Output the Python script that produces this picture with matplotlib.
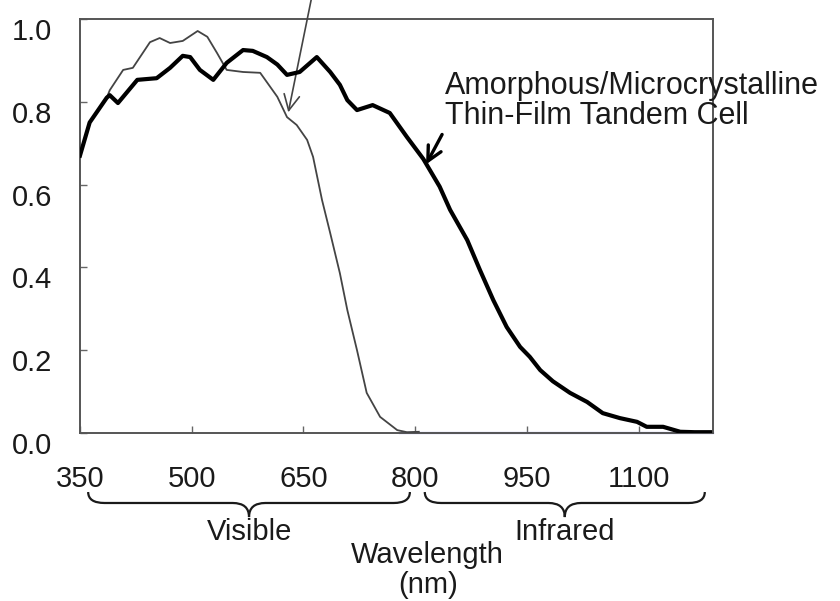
import numpy as np
import matplotlib
matplotlib.use('Agg')
import matplotlib.pyplot as plt
from matplotlib.path import Path
from matplotlib.patches import PathPatch
from matplotlib.transforms import ScaledTranslation

plt.rcParams['font.family'] = ['Liberation Sans', 'DejaVu Sans']

# tandem cell (thick line)
wl_tandem = [350, 363, 386, 390, 401, 427, 453, 471, 488, 498, 511, 529, 547, 569,
             582, 601, 615, 628, 645, 668, 686, 699, 709, 722, 743, 766, 789, 811,
             833, 847, 870, 887, 905, 923, 941, 954, 968, 985, 1008, 1031, 1052,
             1075, 1098, 1111, 1133, 1156, 1175, 1196]
qe_tandem = [0.67, 0.75, 0.81, 0.816, 0.797, 0.853, 0.857, 0.882, 0.911, 0.908, 0.877,
             0.853, 0.894, 0.925, 0.923, 0.908, 0.89, 0.865, 0.872, 0.908, 0.872, 0.841,
             0.804, 0.78, 0.792, 0.773, 0.715, 0.662, 0.595, 0.539, 0.466, 0.394, 0.321,
             0.256, 0.208, 0.184, 0.152, 0.125, 0.097, 0.075, 0.048, 0.036, 0.027, 0.015,
             0.015, 0.003, 0.002, 0.002]

# amorphous single cell (thin line)
wl_amor = [350, 363, 386, 390, 408, 421, 444, 457, 471, 488, 508, 521, 534, 547, 569,
           592, 596, 615, 628, 641, 655, 663, 675, 686, 699, 709, 722, 735, 753, 776,
           789, 805]
qe_amor = [0.67, 0.75, 0.81, 0.828, 0.877, 0.882, 0.944, 0.954, 0.942, 0.947, 0.971,
           0.957, 0.918, 0.877, 0.872, 0.870, 0.860, 0.812, 0.763, 0.744, 0.708, 0.667,
           0.563, 0.483, 0.386, 0.297, 0.200, 0.097, 0.039, 0.007, 0.002, 0.003]

wl_base = [780, 1200]
qe_base = [0.0, 0.0]

xticks = [350, 500, 650, 800, 950, 1100]
yticks = [0.0, 0.2, 0.4, 0.6, 0.8, 1.0]

fig = plt.figure(figsize=(8.4, 6.01), dpi=100)
ax = fig.add_axes([0.0952, 0.2795, 0.7536, 0.6889])

ax.plot(wl_base, qe_base, color='#8c8cdc', lw=1.6, clip_on=False, zorder=2)
ax.plot(wl_amor, qe_amor, color='#444444', lw=1.3, zorder=3, solid_joinstyle='round')
ax.plot(wl_tandem, qe_tandem, color='black', lw=3.0, zorder=4, solid_joinstyle='round')

ax.set_xlim(350, 1200)
ax.set_ylim(0, 1.0)
ax.set_xticks(xticks)
ax.set_yticks(yticks)
ax.set_yticklabels(['%.1f' % v for v in yticks])
ax.tick_params(direction='in', length=5, width=1, color='#666666',
               labelsize=21, labelcolor='#1a1a1a')
ax.tick_params(axis='x', pad=23)
ax.tick_params(axis='y', pad=20)
for s in ax.spines.values():
    s.set_color('#555555')
    s.set_linewidth(1.4)

# excel-style labels sit a bit low
off = ScaledTranslation(0, -10 / 100, fig.dpi_scale_trans)
for lab in ax.get_yticklabels():
    lab.set_transform(lab.get_transform() + off)

# arrows
ax.annotate('', xy=(629, 0.768), xytext=(662, 1.06), annotation_clip=False,
            arrowprops=dict(arrowstyle='->', lw=1.2, color='#444444', mutation_scale=28))
ax.annotate('', xy=(813, 0.643), xytext=(838, 0.727), annotation_clip=False,
            arrowprops=dict(arrowstyle='->', lw=2.4, color='black', mutation_scale=26))
ax.text(840, 0.874, 'Amorphous/Microcrystalline\nThin-Film Tandem Cell', fontsize=22,
        color='#1a1a1a', va='top', ha='left', linespacing=1.0)

# braces under the axis
def brace(x0, x1, xm, ye=-0.1425, ym=-0.169, yt=-0.203, r=22):
    verts = [(x0, ye), (x0, ym), (x0 + r, ym), (xm - r, ym), (xm, ym), (xm, yt),
             (xm, ym), (xm + r, ym), (x1 - r, ym), (x1, ym), (x1, ye)]
    codes = [Path.MOVETO, Path.CURVE3, Path.CURVE3, Path.LINETO, Path.CURVE3, Path.CURVE3,
             Path.CURVE3, Path.CURVE3, Path.LINETO, Path.CURVE3, Path.CURVE3]
    p = PathPatch(Path(verts, codes), fc='none', ec='#1a1a1a', lw=1.6,
                  transform=ax.get_xaxis_transform(), clip_on=False)
    ax.add_patch(p)

brace(361, 793, 577)
brace(813, 1189, 1001)

tr = ax.get_xaxis_transform()
ax.text(578, -0.239, 'Visible', transform=tr, ha='center', va='center', fontsize=21, color='#1a1a1a')
ax.text(1001, -0.239, 'Infrared', transform=tr, ha='center', va='center', fontsize=21, color='#1a1a1a')
ax.text(817, -0.295, 'Wavelength', transform=tr, ha='center', va='center', fontsize=21, color='#1a1a1a')
ax.text(817, -0.367, '(nm)', transform=tr, ha='center', va='center', fontsize=21, color='#1a1a1a')

plt.savefig('out.png', dpi=100)
plt.close()
